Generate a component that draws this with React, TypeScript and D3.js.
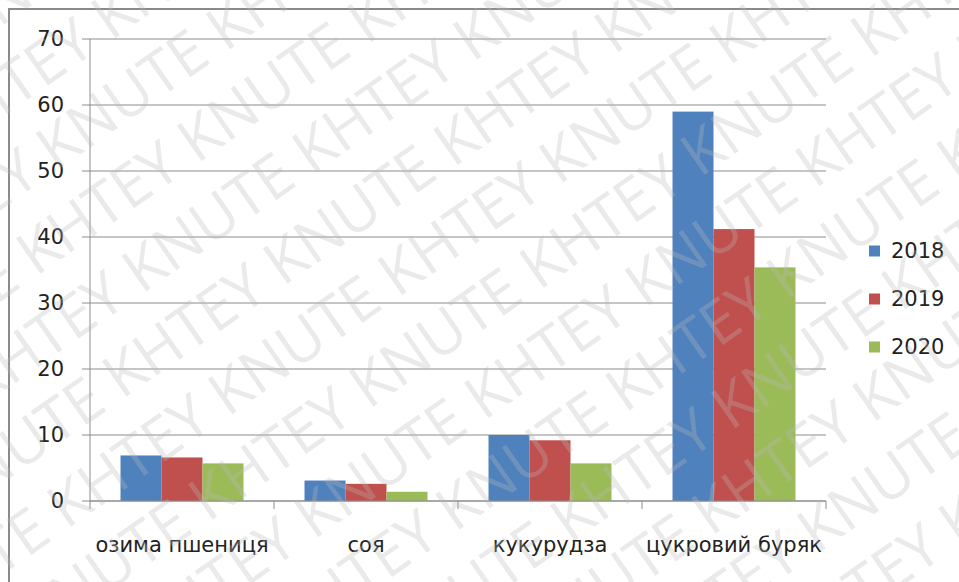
import { scaleBand, scaleLinear } from 'd3';

const categories = ['озима пшениця', 'соя', 'кукурудза', 'цукровий буряк'];
const series = ['2018', '2019', '2020'];
const values2018 = [6.9, 3.1, 10.0, 59.0];
const values2019 = [6.6, 2.6, 9.2, 41.2];
const values2020 = [5.7, 1.4, 5.7, 35.4];
const yTicks = [0, 10, 20, 30, 40, 50, 60, 70];
const colors = ['#4f81bd', '#c0504d', '#9bbb59'];
const watermarkText = 'KHTEY KNUTE';

const W = 959;
const H = 582;
const font = '"DejaVu Sans", Verdana, sans-serif';

const App = () => {
  const seriesValues = [values2018, values2019, values2020];

  const x0 = scaleBand<string>().domain(categories).range([90, 826]);
  const x1 = scaleBand<string>()
    .domain(series)
    .range([0, x0.bandwidth()])
    .paddingOuter(0.744);
  const y = scaleLinear().domain([0, 70]).range([501, 39]);

  // watermark rows in rotated space
  const rows = Array.from({ length: 22 }, (_, i) => i);
  const line = Array.from({ length: 6 }, () => watermarkText).join(' ');

  return (
    <svg
      width={W}
      height={H}
      style={{ position: 'absolute', left: 0, top: 0, background: '#fff' }}
    >
      <rect x={9} y={9} width={W + 20} height={H + 20} fill="#fff" stroke="#8a8a8a" strokeWidth={2} />

      {/* gridlines */}
      {yTicks.map((t) => (
        <line key={t} x1={82} x2={826} y1={y(t)} y2={y(t)} stroke="#8c8c8c" strokeWidth={1} />
      ))}

      {/* bars */}
      {categories.map((c, ci) => (
        <g key={c} transform={`translate(${x0(c)},0)`}>
          {series.map((s, si) => (
            <rect
              key={s}
              x={x1(s)}
              y={y(seriesValues[si][ci])}
              width={x1.bandwidth()}
              height={y(0) - y(seriesValues[si][ci])}
              fill={colors[si]}
            />
          ))}
        </g>
      ))}

      {/* axes */}
      <line x1={90} x2={90} y1={39} y2={509} stroke="#8c8c8c" />
      <line x1={90} x2={826} y1={501} y2={501} stroke="#8c8c8c" />
      {categories.map((c) => (
        <line key={c} x1={x0(c)! + x0.bandwidth()} x2={x0(c)! + x0.bandwidth()} y1={501} y2={509} stroke="#8c8c8c" />
      ))}

      {yTicks.map((t) => (
        <text key={t} x={64} y={y(t)} textAnchor="end" dominantBaseline="central" fontFamily={font} fontSize={21} fill="#222">
          {t}
        </text>
      ))}

      {categories.map((c) => (
        <text key={c} x={x0(c)! + x0.bandwidth() / 2} y={552} textAnchor="middle" fontFamily={font} fontSize={21} fill="#222">
          {c}
        </text>
      ))}

      {/* legend */}
      {series.map((s, i) => (
        <g key={s} transform={`translate(869,${251 + i * 48})`}>
          <rect x={0} y={-5.5} width={11} height={11} fill={colors[i]} />
          <text x={22} y={0} dominantBaseline="central" fontFamily={font} fontSize={21} fill="#222">
            {s}
          </text>
        </g>
      ))}

      {/* watermark */}
      <g transform={`rotate(-35 ${W / 2} ${H / 2})`} pointerEvents="none">
        {rows.map((r) => (
          <text
            key={r}
            x={-400 + (r % 2) * 120}
            y={-500 + r * 75}
            fontFamily='"Open Sans", sans-serif'
            fontSize={60}
            fill="#b8b8b8"
            fillOpacity={0.3}
          >
            {line}
          </text>
        ))}
      </g>
    </svg>
  );
};

export default App;
